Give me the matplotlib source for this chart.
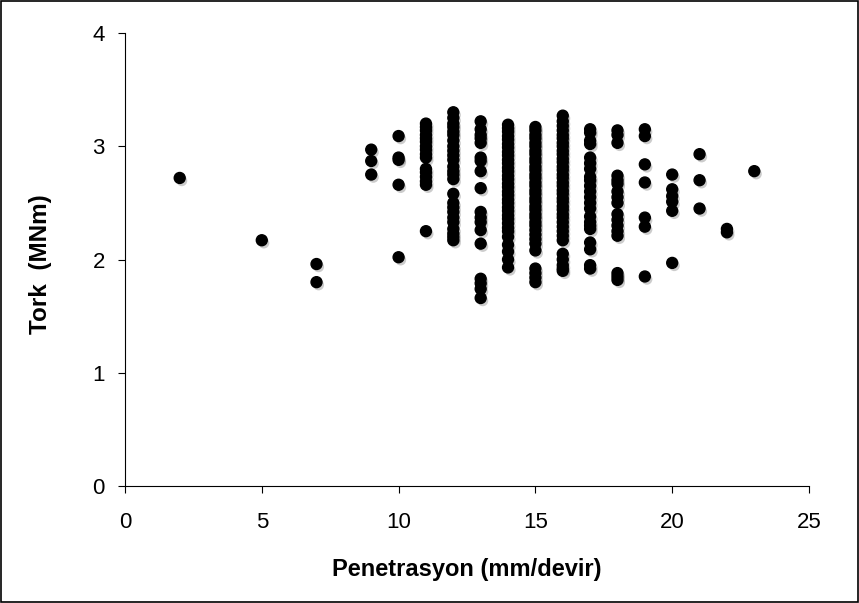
import matplotlib
matplotlib.use("Agg")
from matplotlib import pyplot as plt
from matplotlib import patheffects
import numpy as np

plt.rcParams['font.family'] = ['Liberation Sans', 'DejaVu Sans']

# penetration (mm/rev) columns and torque readings (MNm)
pen_02 = [2.72]
pen_05 = [2.17]
pen_07 = [1.96, 1.80]
pen_09 = [2.97, 2.87, 2.75]
pen_10 = [3.09, 2.90, 2.88, 2.66, 2.02]
pen_11 = [3.20, 3.17, 3.14, 3.10, 3.07, 3.04, 3.00, 2.97, 2.93, 2.90,
          2.80, 2.77, 2.73, 2.69, 2.66, 2.25]
pen_12 = [3.30, 3.25, 3.20, 3.17, 3.13, 3.10, 3.05, 3.00, 2.96, 2.92,
          2.88, 2.82, 2.78, 2.75, 2.71, 2.58, 2.50, 2.46, 2.42, 2.37,
          2.33, 2.27, 2.23, 2.20, 2.17]
pen_13 = [3.22, 3.15, 3.10, 3.07, 3.03, 2.90, 2.87, 2.78, 2.63, 2.42,
          2.37, 2.33, 2.26, 2.14, 1.83, 1.79, 1.74, 1.66]
pen_14 = [3.19, 3.16, 3.13, 3.09, 3.06, 3.02, 2.99, 2.95, 2.92, 2.88,
          2.85, 2.81, 2.78, 2.74, 2.71, 2.67, 2.64, 2.60, 2.57, 2.53,
          2.50, 2.46, 2.43, 2.39, 2.36, 2.32, 2.28, 2.25, 2.20, 2.13,
          2.07, 2.00, 1.93]
pen_15 = [3.17, 3.14, 3.10, 3.07, 3.03, 3.00, 2.96, 2.93, 2.89, 2.86,
          2.82, 2.79, 2.75, 2.72, 2.68, 2.65, 2.61, 2.58, 2.54, 2.51,
          2.47, 2.44, 2.40, 2.37, 2.33, 2.30, 2.26, 2.22, 2.18, 2.14,
          2.08, 1.92, 1.88, 1.84, 1.80]
pen_16 = [3.27, 3.22, 3.18, 3.14, 3.10, 3.07, 3.03, 3.00, 2.96, 2.93,
          2.89, 2.86, 2.82, 2.79, 2.75, 2.72, 2.68, 2.65, 2.61, 2.58,
          2.54, 2.51, 2.47, 2.44, 2.40, 2.37, 2.33, 2.29, 2.25, 2.21,
          2.17, 2.05, 2.00, 1.95, 1.92, 1.90]
pen_17 = [3.15, 3.12, 3.05, 3.02, 2.90, 2.85, 2.80, 2.73, 2.70, 2.65,
          2.60, 2.55, 2.50, 2.45, 2.38, 2.33, 2.30, 2.27, 2.15, 2.09,
          1.95, 1.92]
pen_18 = [3.14, 3.10, 3.03, 2.74, 2.70, 2.67, 2.60, 2.55, 2.50, 2.40,
          2.35, 2.30, 2.25, 2.21, 1.88, 1.85, 1.82]
pen_19 = [3.15, 3.09, 2.84, 2.68, 2.37, 2.29, 1.85]
pen_20 = [2.75, 2.62, 2.56, 2.51, 2.43, 1.97]
pen_21 = [2.93, 2.70, 2.45]
pen_22 = [2.27, 2.24]
pen_23 = [2.78]

columns = {2: pen_02, 5: pen_05, 7: pen_07, 9: pen_09, 10: pen_10,
           11: pen_11, 12: pen_12, 13: pen_13, 14: pen_14, 15: pen_15,
           16: pen_16, 17: pen_17, 18: pen_18, 19: pen_19, 20: pen_20,
           21: pen_21, 22: pen_22, 23: pen_23}

xs = []
ys = []
for pen, torques in columns.items():
    xs += [pen] * len(torques)
    ys += torques

fig = plt.figure(figsize=(8.59, 6.03), dpi=100)
ax = fig.add_axes([0.1455, 0.194, 0.7963, 0.7513])

sc = ax.scatter(xs, ys, s=62, color="black", zorder=3, clip_on=False)
sc.set_path_effects([patheffects.withSimplePatchShadow(offset=(1.5, -2),
                                                      shadow_rgbFace="gray",
                                                      alpha=0.4)])

ax.set_xlim(0, 25)
ax.set_ylim(0, 4)
ax.set_xticks(np.arange(0, 26, 5))
ax.set_yticks(np.arange(0, 5, 1))
ax.spines["top"].set_visible(False)
ax.spines["right"].set_visible(False)
ax.tick_params(direction="out", length=5, labelsize=16)
ax.tick_params(axis="x", pad=14)
ax.tick_params(axis="y", pad=9.5)
ax.set_xlabel("Penetrasyon (mm/devir)", fontsize=17, fontweight="bold", va="center")
ax.set_ylabel("Tork  (MNm)", fontsize=17.5, fontweight="bold", va="center")
ax.xaxis.set_label_coords(0.5, -0.185)
ax.yaxis.set_label_coords(-0.124, 0.49)

# frame around the whole picture
fig.patches.append(plt.Rectangle((0.001, 0.001), 0.998, 0.998, transform=fig.transFigure,
                                 fill=False, edgecolor="black", linewidth=1.2))

fig.savefig("out.png", dpi=100)
